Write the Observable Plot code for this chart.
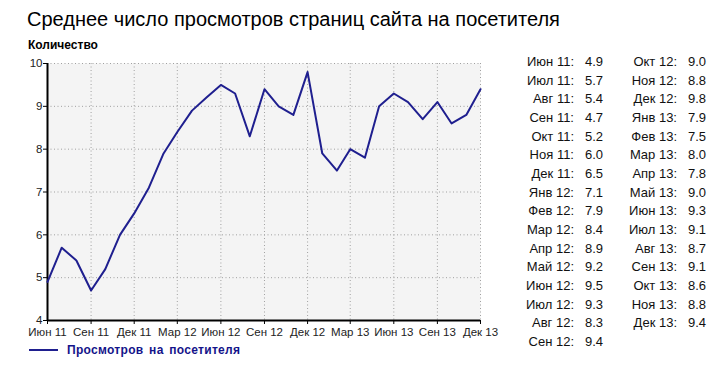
<!DOCTYPE html>
<html>
<head>
<meta charset="utf-8">
<script src="https://cdn.jsdelivr.net/npm/d3@7"></script>
<script src="https://cdn.jsdelivr.net/npm/@observablehq/plot@0.6"></script>
<style>
  html, body { margin: 0; padding: 0; background: #fff; }
  body { font-family: "Liberation Sans", Arial, sans-serif; }
  #wrap { position: relative; width: 724px; height: 390px; overflow: hidden; }
  #title { position: absolute; left: 27px; top: 8px; font-size: 20px; color: #000; white-space: nowrap; }
  #ylabel { position: absolute; left: 28px; top: 38px; font-size: 12px; font-weight: bold; color: #000; }
  #chart { position: absolute; left: 0; top: 0; }
  #legend { position: absolute; left: 29px; top: 343px; font-size: 12px; font-weight: bold; color: #14148a; white-space: nowrap; letter-spacing: 0.3px; word-spacing: 2px; }
  #legend .sw { display: inline-block; width: 29px; height: 2px; background: #1f1f8f; vertical-align: middle; margin-right: 9px; position: relative; top: -1px; }
  .cell { position: absolute; font-size: 13px; color: #111; white-space: nowrap; line-height: 14px; }
</style>
</head>
<body>
<div id="wrap">
  <div id="chart"></div>
  <div id="title">Среднее число просмотров страниц сайта на посетителя</div>
  <div id="ylabel">Количество</div>
  <div id="legend"><span class="sw"></span>Просмотров на посетителя</div>
</div>
<script>
const monthLabels = [
  "Июн 11","Июл 11","Авг 11","Сен 11","Окт 11","Ноя 11","Дек 11",
  "Янв 12","Фев 12","Мар 12","Апр 12","Май 12","Июн 12","Июл 12","Авг 12","Сен 12",
  "Окт 12","Ноя 12","Дек 12","Янв 13","Фев 13","Мар 13","Апр 13","Май 13",
  "Июн 13","Июл 13","Авг 13","Сен 13","Окт 13","Ноя 13","Дек 13"
];
const views = [
  4.9, 5.7, 5.4, 4.7, 5.2, 6.0, 6.5,
  7.1, 7.9, 8.4, 8.9, 9.2, 9.5, 9.3, 8.3, 9.4,
  9.0, 8.8, 9.8, 7.9, 7.5, 8.0, 7.8, 9.0,
  9.3, 9.1, 8.7, 9.1, 8.6, 8.8, 9.4
];
const tickLabels = ["Июн 11","Сен 11","Дек 11","Мар 12","Июн 12","Сен 12","Дек 12","Мар 13","Июн 13","Сен 13","Дек 13"];
const yTicks = [4, 5, 6, 7, 8, 9, 10];
const seriesName = "Просмотров на посетителя";

const monthDates = d3.utcMonth.range(new Date(Date.UTC(2011, 5, 1)), new Date(Date.UTC(2014, 0, 1)));
const data = monthLabels.map((m, i) => ({label: m, date: monthDates[i], value: views[i]}));
const labelByTime = new Map(data.map(d => [+d.date, d.label]));
const tickDates = data.filter(d => tickLabels.includes(d.label)).map(d => d.date);
const x0 = monthDates[0], x1 = monthDates[monthDates.length - 1];

const navy = "#1f1f8f";
const chart = Plot.plot({
  width: 500,
  height: 345,
  marginLeft: 47,
  marginRight: 20,
  marginTop: 63,
  marginBottom: 25,
  style: {fontFamily: "Liberation Sans, Arial, sans-serif", fontSize: "11px", background: "transparent", color: "#222"},
  x: {type: "utc", domain: [x0, x1]},
  y: {domain: [4, 10]},
  marks: [
    Plot.frame({fill: "#f4f4f4", stroke: null}),
    Plot.gridY(yTicks, {stroke: "#a0a0a0", strokeOpacity: 1, strokeDasharray: "1,2.5"}),
    Plot.gridX(tickDates, {stroke: "#a0a0a0", strokeOpacity: 1, strokeDasharray: "1,2.5"}),
    Plot.axisY(yTicks, {tickSize: 4, tickPadding: 1, label: null, stroke: "#000", fill: "#222", fontSize: 11.5}),
    Plot.axisX(tickDates, {tickSize: 4, tickPadding: 3, label: null, stroke: "#000", fill: "#222", fontSize: 11.5,
      tickFormat: d => labelByTime.get(+d)}),
    Plot.ruleX([x0], {y1: 4, y2: 10, stroke: "#000", strokeWidth: 2}),
    Plot.ruleY([4], {x1: x0, x2: x1, stroke: "#000", strokeWidth: 2}),
    Plot.line(data, {x: "date", y: "value", stroke: navy, strokeWidth: 2})
  ]
});
document.getElementById("chart").appendChild(chart);

// Side table of values
const wrap = document.getElementById("wrap");
const rowsPerCol = 16;
const rowTop = 55, rowStep = 18.67;
const cols = [{labelRight: 574, valueLeft: 585}, {labelRight: 677, valueLeft: 688}];
data.forEach((d, i) => {
  const c = cols[Math.floor(i / rowsPerCol)];
  const r = i % rowsPerCol;
  const top = rowTop + r * rowStep;
  const lab = document.createElement("div");
  lab.className = "cell";
  lab.style.top = top + "px";
  lab.style.right = (724 - c.labelRight) + "px";
  lab.textContent = d.label + ":";
  wrap.appendChild(lab);
  const val = document.createElement("div");
  val.className = "cell";
  val.style.top = top + "px";
  val.style.left = c.valueLeft + "px";
  val.textContent = d.value.toFixed(1);
  wrap.appendChild(val);
});
</script>
</body>
</html>
